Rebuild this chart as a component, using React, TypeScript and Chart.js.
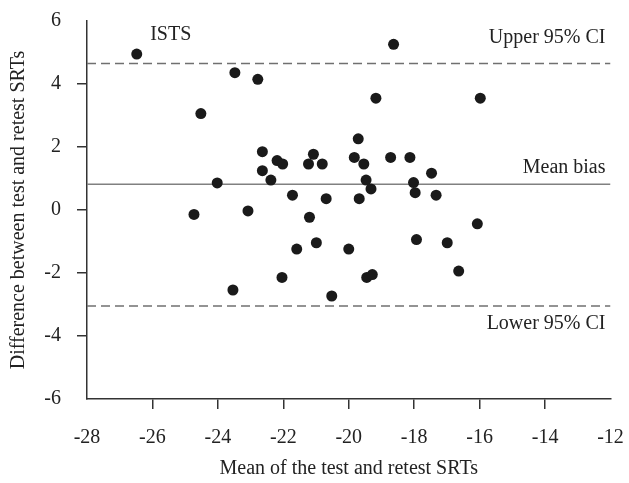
import React, { useEffect, useRef } from "react";
import { Chart, registerables } from "chart.js";

Chart.register(...registerables);

// Mean of test and retest SRTs (x) vs difference (y)
const meanValues = [
  -26.48, -23.48, -22.78, -24.52, -22.64, -22.19, -22.02, -22.64, -22.38, -24.02,
  -21.08, -21.23, -20.81, -21.72, -20.69, -24.73, -23.08, -21.2, -21.59, -20.99,
  -20.0, -22.04, -23.54, -20.52, -18.63, -19.17, -15.98, -19.71, -19.83, -19.54,
  -18.72, -18.13, -17.47, -19.47, -18.02, -19.32, -17.97, -17.33, -19.68, -16.07,
  -17.93, -16.99, -16.64, -19.45, -19.28,
];
const diffValues = [
  4.95, 4.36, 4.15, 3.06, 1.85, 1.57, 1.46, 1.25, 0.95, 0.86,
  1.77, 1.46, 1.46, 0.47, 0.36, -0.14, -0.03, -0.23, -1.24, -1.04,
  -1.24, -2.14, -2.54, -2.73, 5.26, 3.55, 3.55, 2.26, 1.67, 1.46,
  1.67, 1.67, 1.17, 0.95, 0.87, 0.67, 0.55, 0.47, 0.36, -0.44,
  -0.94, -1.04, -1.94, -2.14, -2.05,
];

const meanBias = 0.82;
const upperCI = 4.65;
const lowerCI = -3.05;

const xRange = [-28, -12];
const yRange = [-6, 6];
const tickStep = 2;

const xTitle = "Mean of the test and retest SRTs";
const yTitle = "Difference between test and retest SRTs";
const labelISTS = "ISTS";
const labelUpper = "Upper 95% CI";
const labelMean = "Mean bias";
const labelLower = "Lower 95% CI";
const istsLabelPos = { x: -26.07, y: 5.4 };

const FONT = "'Liberation Serif', 'Times New Roman', serif";

export default function App() {
  const canvasRef = useRef<HTMLCanvasElement | null>(null);

  useEffect(() => {
    const canvas = canvasRef.current;
    if (!canvas) return;

    const annotations = {
      id: "annotations",
      afterDatasetsDraw(chart: any) {
        const { ctx, chartArea, scales } = chart;
        const xs = scales.x;
        const ys = scales.y;
        ctx.save();
        ctx.fillStyle = "#222";
        ctx.font = `20px ${FONT}`;
        ctx.textBaseline = "alphabetic";
        ctx.textAlign = "left";
        ctx.fillText(labelISTS, xs.getPixelForValue(istsLabelPos.x), ys.getPixelForValue(istsLabelPos.y));
        ctx.textAlign = "right";
        const rx = chartArea.right - 5;
        ctx.fillText(labelUpper, rx, ys.getPixelForValue(upperCI) - 21);
        ctx.fillText(labelMean, rx, ys.getPixelForValue(meanBias) - 11);
        ctx.fillText(labelLower, rx, ys.getPixelForValue(lowerCI) + 23);
        ctx.restore();
      },
    };

    const hideEnds = (min: number, max: number) => (c: any) => {
      const v = c.tick ? c.tick.value : null;
      return v === min || v === max ? "rgba(0,0,0,0)" : "#333";
    };

    const chart = new Chart(canvas, {
      type: "scatter",
      data: {
        datasets: [
          {
            label: "points",
            data: meanValues.map((x, i) => ({ x, y: diffValues[i] })),
            backgroundColor: "#1a1a1a",
            borderWidth: 0,
            pointRadius: 5.5,
          },
          {
            type: "line",
            label: "mean",
            data: [
              { x: xRange[0], y: meanBias },
              { x: xRange[1], y: meanBias },
            ],
            borderColor: "#808080",
            borderWidth: 1.5,
            pointRadius: 0,
          },
          {
            type: "line",
            label: "upper",
            data: [
              { x: xRange[0], y: upperCI },
              { x: xRange[1], y: upperCI },
            ],
            borderColor: "#707070",
            borderWidth: 1.5,
            borderDash: [9, 5],
            pointRadius: 0,
          },
          {
            type: "line",
            label: "lower",
            data: [
              { x: xRange[0], y: lowerCI },
              { x: xRange[1], y: lowerCI },
            ],
            borderColor: "#707070",
            borderWidth: 1.5,
            borderDash: [9, 5],
            pointRadius: 0,
          },
        ] as any,
      },
      options: {
        animation: false,
        responsive: false,
        devicePixelRatio: 1,
        layout: { padding: { top: 21, right: 18.5, left: 0, bottom: 0 } },
        plugins: {
          legend: { display: false },
          tooltip: { enabled: false },
        },
        scales: {
          x: {
            type: "linear",
            min: xRange[0],
            max: xRange[1],
            afterFit: (s: any) => {
              s.height = 84;
              s.paddingLeft = 0;
              s.paddingRight = 0;
            },
            ticks: {
              stepSize: tickStep,
              color: "#222",
              font: { family: FONT, size: 20 },
              padding: 17,
            },
            grid: {
              drawOnChartArea: false,
              drawTicks: true,
              tickLength: 10,
              color: hideEnds(xRange[0], xRange[1]),
              lineWidth: 1.5,
            },
            border: { color: "#333", width: 1.5 },
            title: {
              display: true,
              text: xTitle,
              color: "#222",
              font: { family: FONT, size: 20 },
              padding: { top: 0, bottom: 2 },
            },
          },
          y: {
            type: "linear",
            min: yRange[0],
            max: yRange[1],
            afterFit: (s: any) => {
              s.width = 87;
              s.paddingTop = 0;
              s.paddingBottom = 0;
            },
            ticks: {
              stepSize: tickStep,
              color: "#222",
              font: { family: FONT, size: 20 },
              padding: 16,
            },
            grid: {
              drawOnChartArea: false,
              drawTicks: true,
              tickLength: 10,
              color: hideEnds(yRange[0], yRange[1]),
              lineWidth: 1.5,
            },
            border: { color: "#333", width: 1.5 },
            title: {
              display: true,
              text: yTitle,
              color: "#222",
              font: { family: FONT, size: 20 },
              padding: { top: 7, bottom: 0 },
            },
          },
        },
      },
      plugins: [annotations],
    });

    return () => chart.destroy();
  }, []);

  return (
    <div style={{ position: "absolute", left: 0, top: 0, width: 629, height: 483, background: "#fff" }}>
      <canvas ref={canvasRef} width={629} height={483} style={{ width: 629, height: 483, display: "block" }} />
    </div>
  );
}
